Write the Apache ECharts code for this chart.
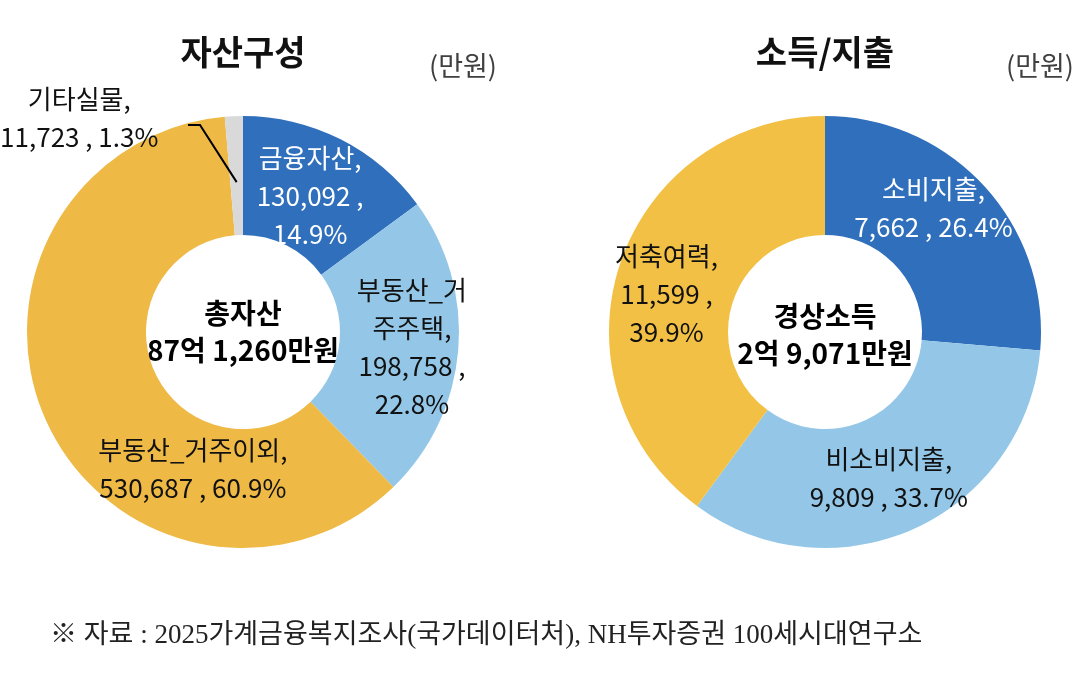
<!DOCTYPE html>
<html>
<head>
<meta charset="utf-8">
<script src="https://cdn.jsdelivr.net/npm/echarts@6/dist/echarts.min.js"></script>
<style>
html,body{margin:0;padding:0;background:#fff;}
#chart{width:1089px;height:685px;}
</style>
</head>
<body>
<div id="chart"></div>
<script>
// ---- data ----
const assetNames = ['금융자산', '부동산_거주주택', '부동산_거주이외', '기타실물'];
const assetLabelNames = ['금융자산', '부동산_거\n주주택', '부동산_거주이외', '기타실물'];
const assetValues = [130092, 198758, 530687, 11723];
const assetCenterText = ['총자산', '87억 1,260만원'];

const incomeNames = ['소비지출', '비소비지출', '저축여력'];
const incomeLabelNames = ['소비지출', '비소비지출', '저축여력'];
const incomeValues = [7662, 9809, 11599];
const incomeCenterText = ['경상소득', '2억 9,071만원'];

const titles = ['자산구성', '소득/지출'];
const unitText = '(만원)';
const sourceText = '※ 자료 : 2025가계금융복지조사(국가데이터처), NH투자증권 100세시대연구소';

// ---- styles ----
const FONT = "'Noto Sans CJK KR', 'Noto Sans', sans-serif";
const assetColors = ['#2F6FBB', '#94C7E7', '#EEB945', '#D9D9D9'];
const incomeColors = ['#2F6FBB', '#94C7E7', '#F2C044'];
const assetLabelColor = ['#ffffff', '#111111', '#111111', '#111111'];
const incomeLabelColor = ['#ffffff', '#111111', '#111111'];
const assetSplit = [true, true, false, false];
const incomeSplit = [false, false, true];
const assetOffsets = [[-5, 6], [10, 2], [95, 71], [-157, -55]];
const incomeOffsets = [[-9, -16], [-2, 1], [-7, 12]];
const leftCenter = [243, 332];
const rightCenter = [825, 332];
const radius = [97, 216];

function fmt(n) { return n.toLocaleString('en-US'); }

function buildData(names, labelNames, values, colors, labelColors, split, offsets) {
  const total = values.reduce((a, b) => a + b, 0);
  return names.map((n, i) => {
    const pct = (values[i] / total * 100).toFixed(1) + '%';
    const txt = labelNames[i] + ',\n' + fmt(values[i]) + ' ,' + (split[i] ? '\n' : ' ') + pct;
    return {
      name: n,
      value: values[i],
      itemStyle: { color: colors[i] },
      label: {
        show: true,
        position: 'inside',
        formatter: txt,
        color: labelColors[i],
        fontSize: 26,
        lineHeight: 38,
        fontFamily: FONT,
        offset: offsets[i]
      }
    };
  });
}

const chart = echarts.init(document.getElementById('chart'), null, { renderer: 'canvas' });

// leader line for small slice 기타실물, computed from its data angle
const totalA = assetValues.reduce((a, b) => a + b, 0);
let cum = 0;
for (let i = 0; i < 3; i++) cum += assetValues[i];
const midDeg = (cum + assetValues[3] / 2) / totalA * 360;
const midRad = midDeg * Math.PI / 180;
const rr = 150;
const startPt = [leftCenter[0] + rr * Math.sin(midRad), leftCenter[1] - rr * Math.cos(midRad)];

const option = {
  backgroundColor: '#ffffff',
  animation: false,
  series: [
    {
      type: 'pie',
      center: leftCenter,
      radius: radius,
      startAngle: 90,
      clockwise: true,
      avoidLabelOverlap: false,
      labelLine: { show: false },
      emphasis: { disabled: true },
      data: buildData(assetNames, assetLabelNames, assetValues, assetColors, assetLabelColor, assetSplit, assetOffsets)
    },
    {
      type: 'pie',
      center: rightCenter,
      radius: radius,
      startAngle: 90,
      clockwise: true,
      avoidLabelOverlap: false,
      labelLine: { show: false },
      emphasis: { disabled: true },
      data: buildData(incomeNames, incomeLabelNames, incomeValues, incomeColors, incomeLabelColor, incomeSplit, incomeOffsets)
    }
  ],
  graphic: [
    { type: 'text', x: leftCenter[0], y: 52, style: { text: titles[0], font: "bold 34px " + FONT, fill: '#111', textAlign: 'center', textVerticalAlign: 'middle' } },
    { type: 'text', x: rightCenter[0], y: 52, style: { text: titles[1], font: "bold 34px " + FONT, fill: '#111', textAlign: 'center', textVerticalAlign: 'middle' } },
    { type: 'text', x: 463, y: 66, style: { text: unitText, font: "27px " + FONT, fill: '#404040', textAlign: 'center', textVerticalAlign: 'middle' } },
    { type: 'text', x: 1040, y: 66, style: { text: unitText, font: "27px " + FONT, fill: '#404040', textAlign: 'center', textVerticalAlign: 'middle' } },
    { type: 'text', x: leftCenter[0], y: 313, style: { text: assetCenterText[0], font: "bold 28px " + FONT, fill: '#000', textAlign: 'center', textVerticalAlign: 'middle' } },
    { type: 'text', x: leftCenter[0], y: 350, style: { text: assetCenterText[1], font: "bold 28px " + FONT, fill: '#000', textAlign: 'center', textVerticalAlign: 'middle' } },
    { type: 'text', x: rightCenter[0], y: 316, style: { text: incomeCenterText[0], font: "bold 28px " + FONT, fill: '#000', textAlign: 'center', textVerticalAlign: 'middle' } },
    { type: 'text', x: rightCenter[0], y: 353, style: { text: incomeCenterText[1], font: "bold 28px " + FONT, fill: '#000', textAlign: 'center', textVerticalAlign: 'middle' } },
    { type: 'polyline', shape: { points: [startPt, [200, 125], [188, 125]] }, style: { stroke: '#000', lineWidth: 2, fill: null }, z: 10 },
    { type: 'text', x: 50, y: 636, style: { text: sourceText, font: "27px 'Liberation Serif', 'Noto Sans CJK KR', serif", fill: '#222', textAlign: 'left', textVerticalAlign: 'middle' } }
  ]
};
chart.setOption(option);
</script>
</body>
</html>
